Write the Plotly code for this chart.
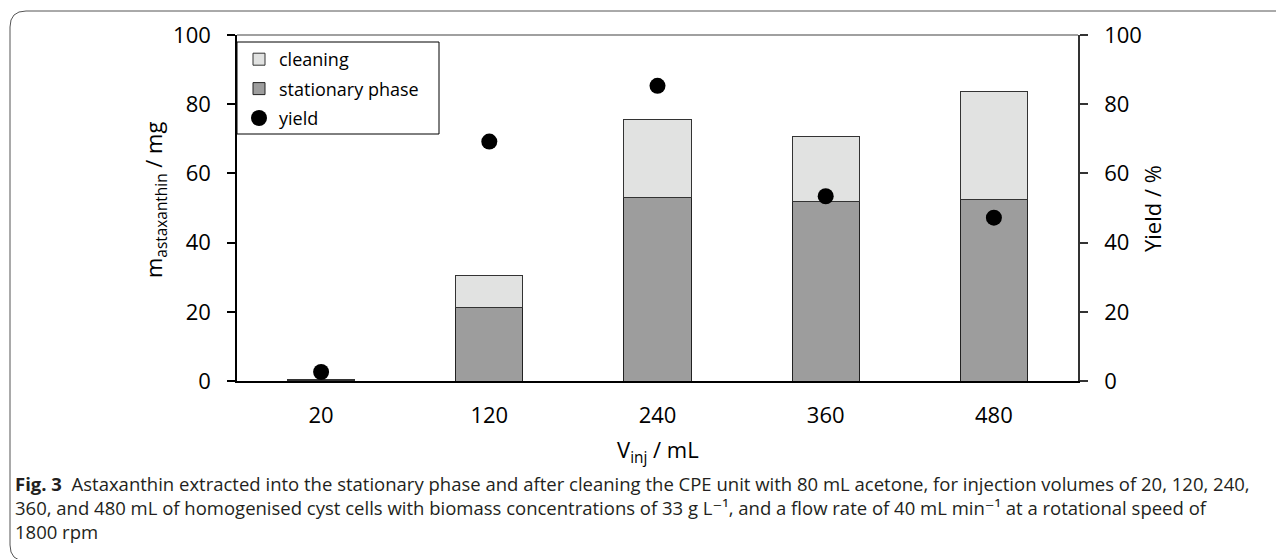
import plotly.graph_objects as go

categories = ["20", "120", "240", "360", "480"]
stationary_phase = [0.2, 21.2, 53.1, 51.9, 52.5]
cleaning = [0.1, 9.3, 22.4, 18.8, 31.1]
yield_pct = [2.6, 69.2, 85.3, 53.4, 47.2]

y_ticks = [0, 20, 40, 60, 80, 100]

OFF = 8  # page body margin
W, H = 1284 - OFF, 559 - OFF
L, R, T, B = 237, 1078, 35, 381  # plot area in page pixels


def px_x(x):
    return (x - L) / (R - L)


def px_y(y):
    return 1 - (y - T) / (B - T)


FONT = "Open Sans, DejaVu Sans, sans-serif"

fig = go.Figure()
fig.add_trace(go.Bar(
    x=categories, y=stationary_phase, name="stationary phase",
    marker=dict(color="#9d9d9d", line=dict(color="#222222", width=1)),
    legendrank=2, legendgroup="b",
))
fig.add_trace(go.Bar(
    x=categories, y=cleaning, name="cleaning",
    marker=dict(color="#e1e2e1", line=dict(color="#333333", width=1)),
    legendrank=1, legendgroup="a",
))
fig.add_trace(go.Scatter(
    x=categories, y=yield_pct, name="yield", mode="markers", yaxis="y2",
    marker=dict(color="black", size=16, symbol="circle"),
    cliponaxis=False, legendrank=3, legendgroup="c",
))

shapes = [
    dict(type="line", xref="paper", yref="paper", x0=0, x1=1, y0=1, y1=1,
         line=dict(color="#808080", width=1.5)),
    dict(type="rect", xref="paper", yref="paper",
         x0=px_x(237), x1=px_x(439), y0=px_y(134), y1=px_y(42),
         line=dict(color="black", width=1), fillcolor="white", layer="below"),
    dict(type="path", xref="paper", yref="paper",
         path=(f"M {px_x(1300)},{px_y(11)} L {px_x(26)},{px_y(11)} "
               f"Q {px_x(10)},{px_y(11)} {px_x(10)},{px_y(27)} "
               f"L {px_x(10)},{px_y(545)} Q {px_x(10)},{px_y(561)} {px_x(26)},{px_y(561)} "
               f"L {px_x(1300)},{px_y(561)}"),
         line=dict(color="#555555", width=1)),
]

cap_color = "#231f20"
caption_lines = [
    "<b>Fig. 3</b>\u00a0\u00a0Astaxanthin extracted into the stationary phase and after cleaning the CPE unit with 80 mL acetone, for injection volumes of 20, 120, 240,",
    "360, and 480 mL of homogenised cyst cells with biomass concentrations of 33 g L\u207b\u00b9, and a flow rate of 40 mL min\u207b\u00b9 at a rotational speed of",
    "1800 rpm",
]

annotations = [
    dict(text="m<sub>astaxanthin</sub> / mg", xref="paper", yref="paper",
         x=px_x(155), y=px_y(200), textangle=-90, showarrow=False,
         xanchor="center", yanchor="middle", font=dict(family=FONT, size=22, color="black")),
    dict(text="Yield / %", xref="paper", yref="paper",
         x=px_x(1152), y=px_y(209), textangle=-90, showarrow=False,
         xanchor="center", yanchor="middle", font=dict(family=FONT, size=22, color="black")),
    dict(text="V<sub>inj</sub> / mL", xref="paper", yref="paper",
         x=0.5, y=px_y(451), showarrow=False,
         xanchor="center", yanchor="middle", font=dict(family=FONT, size=22, color="black")),
    dict(text="<br>".join(caption_lines), xref="paper", yref="paper",
         x=px_x(13), y=px_y(508), showarrow=False, align="left",
         xanchor="left", yanchor="middle",
         font=dict(family=FONT, size=18.5, color=cap_color)),
]

fig.update_layout(
    width=W, height=H,
    margin=dict(l=L - OFF, r=1284 - R, t=T - OFF, b=559 - B, autoexpand=False),
    paper_bgcolor="white", plot_bgcolor="white",
    barmode="stack", bargap=0.6,
    font=dict(family=FONT, color="black"),
    showlegend=True,
    legend=dict(x=px_x(239), y=px_y(41), xanchor="left", yanchor="top",
                bgcolor="rgba(0,0,0,0)", borderwidth=0,
                font=dict(family=FONT, size=18, color="black"),
                traceorder="grouped", tracegroupgap=3, itemwidth=30),
    xaxis=dict(type="category", showline=True, linecolor="black", linewidth=2,
               ticks="", showgrid=False, zeroline=False,
               tickfont=dict(family=FONT, size=22, color="black"), ticklabelstandoff=14),
    yaxis=dict(range=[0, 100], tickvals=y_ticks, showline=True, linecolor="black", linewidth=1.5,
               ticks="outside", ticklen=8, tickcolor="black", tickwidth=1.5,
               showgrid=False, zeroline=False,
               tickfont=dict(family=FONT, size=22, color="black"), ticklabelstandoff=12),
    yaxis2=dict(range=[0, 100], tickvals=y_ticks, overlaying="y", side="right",
                showline=True, linecolor="#333333", linewidth=1.5,
                ticks="outside", ticklen=8, tickcolor="#333333", tickwidth=1.5,
                showgrid=False, zeroline=False,
                tickfont=dict(family=FONT, size=22, color="black"), ticklabelstandoff=12),
    shapes=shapes,
    annotations=annotations,
)

fig.write_html("out.html")
